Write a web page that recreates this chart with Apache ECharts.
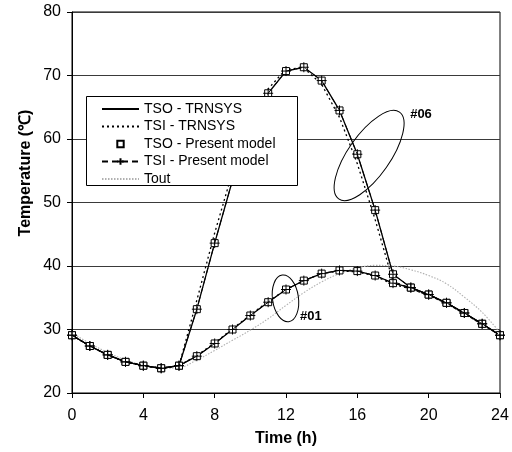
<!DOCTYPE html>
<html>
<head>
<meta charset="utf-8">
<script src="https://cdn.jsdelivr.net/npm/echarts@6/dist/echarts.min.js"></script>
<style>
  html, body { margin: 0; padding: 0; background: #fff; }
  #chart { width: 512px; height: 452px; }
</style>
</head>
<body>
<div id="chart"></div>
<script>
// Hour of day
const hours = [0, 1, 2, 3, 4, 5, 6, 7, 8, 9, 10, 11, 12, 13, 14, 15, 16, 17, 18, 19, 20, 21, 22, 23, 24];

// Case #06: outlet (TSO) and inlet (TSI) temperatures, °C
const tso06 = [29.1, 27.4, 26.0, 24.9, 24.3, 23.9, 24.3, 33.2, 43.6, 53.5, 61.0, 67.2, 70.7, 71.3, 69.2, 64.5, 57.6, 48.8, 38.7, 36.6, 35.5, 34.2, 32.6, 30.9, 29.1];
const tsiTrnsys06 = [29.1, 27.4, 26.0, 24.9, 24.3, 23.9, 24.3, 34.6, 45.2, 54.8, 62.2, 67.9, 71.0, 71.2, 68.6, 63.4, 56.1, 47.3, 37.6, 36.4, 35.4, 34.1, 32.5, 30.8, 29.1];

// Case #01: outlet (TSO) and inlet (TSI) temperatures, °C
const tso01 = [29.1, 27.4, 26.0, 24.9, 24.3, 23.9, 24.3, 25.8, 27.8, 30.0, 32.2, 34.3, 36.3, 37.7, 38.8, 39.3, 39.2, 38.5, 37.3, 36.6, 35.5, 34.2, 32.6, 30.9, 29.1];
const tsiTrnsys01 = [29.1, 27.4, 26.0, 24.9, 24.3, 23.9, 24.3, 25.9, 27.9, 30.1, 32.3, 34.4, 36.3, 37.7, 38.8, 39.2, 39.1, 38.4, 37.1, 36.4, 35.4, 34.1, 32.5, 30.8, 29.1];

// Present model results (same hourly grid)
const tsoModel06 = tso06;
const tsiModel06 = tso06;
const tsoModel01 = tso01;
const tsiModel01 = tso01;

// Outdoor air temperature, °C
const tout = [29.5, 27.8, 26.4, 25.2, 24.4, 23.9, 24.0, 25.2, 26.7, 28.3, 29.9, 31.7, 33.8, 35.8, 37.5, 38.8, 39.7, 40.1, 40.0, 39.4, 38.5, 37.2, 35.1, 32.7, 29.5];

// Axis ticks
const xTicks = [0, 4, 8, 12, 16, 20, 24];
const yTicks = [20, 30, 40, 50, 60, 70, 80];

// Legend entries
const names = ['TSO - TRNSYS', 'TSI - TRNSYS', 'TSO - Present model', 'TSI - Present model', 'Tout'];

const pts = vals => hours.map((h, i) => [h, vals[i]]);
const FONT = 'Arial, "Liberation Sans", sans-serif';
const PLUS = 'path://M0,5L10,5M5,0L5,10';

function trnsysSolid(data) {
  return {
    name: names[0], type: 'line', data: pts(data), symbol: 'none',
    lineStyle: { color: '#000', width: 1.3, type: 'solid' }, z: 3
  };
}
function trnsysDotted(data) {
  return {
    name: names[1], type: 'line', data: pts(data), symbol: 'none',
    lineStyle: { color: '#000', width: 1.3, type: [2, 3] }, z: 3
  };
}
function modelSquares(data) {
  return {
    name: names[2], type: 'line', data: pts(data), symbol: 'rect', symbolSize: 7,
    itemStyle: { color: '#fff', borderColor: '#000', borderWidth: 1 },
    lineStyle: { width: 0, opacity: 0 }, z: 4
  };
}
function modelPlus(data) {
  return {
    name: names[3], type: 'line', data: pts(data), symbol: PLUS, symbolSize: 10,
    itemStyle: { color: '#000', borderColor: '#000', borderWidth: 1 },
    lineStyle: { color: '#000', width: 1, type: [6, 4] }, z: 5
  };
}

const chart = echarts.init(document.getElementById('chart'), null, { renderer: 'canvas' });

// line-only entries show just their stroke in the legend
const hideSymbol = { opacity: 0 };

chart.setOption({
  animation: false,
  backgroundColor: '#fff',
  textStyle: { fontFamily: FONT },
  grid: {
    left: 72, right: 12, top: 12, bottom: 59,
    show: true, borderColor: '#000', borderWidth: 1, backgroundColor: 'transparent'
  },
  xAxis: {
    type: 'value', min: xTicks[0], max: xTicks[xTicks.length - 1], interval: 4,
    name: 'Time (h)', nameLocation: 'middle', nameGap: 38,
    nameTextStyle: { fontSize: 16, fontWeight: 'bold', color: '#000', fontFamily: FONT },
    axisLine: { onZero: false, lineStyle: { color: '#000', width: 1 } },
    axisTick: { show: true, inside: false, length: 5, lineStyle: { color: '#000' } },
    axisLabel: { fontSize: 16, color: '#000', margin: 15, fontFamily: FONT },
    splitLine: { show: false }
  },
  yAxis: {
    type: 'value', min: yTicks[0], max: yTicks[yTicks.length - 1], interval: 10,
    axisLine: { show: true, onZero: false, lineStyle: { color: '#000', width: 1 } },
    axisTick: { show: true, inside: false, length: 5, lineStyle: { color: '#000' } },
    axisLabel: { fontSize: 16, color: '#000', margin: 11, fontFamily: FONT },
    splitLine: { show: true, lineStyle: { color: '#3a3a3a', width: 1 } }
  },
  legend: {
    data: [
      { name: names[0], itemStyle: hideSymbol },
      { name: names[1], itemStyle: hideSymbol },
      { name: names[2] },
      { name: names[3] },
      { name: names[4], itemStyle: hideSymbol }
    ],
    orient: 'vertical', left: 101, top: 102, padding: 0,
    itemWidth: 37, itemHeight: 8, itemGap: 3.5,
    textStyle: { fontSize: 14, color: '#000', lineHeight: 14, fontFamily: FONT },
    selectedMode: false, z: 10
  },
  series: [
    {
      name: names[4], type: 'line', data: pts(tout), symbol: 'none', smooth: 0.4,
      lineStyle: { color: '#b0b0b0', width: 1.1, type: [1.5, 1.5] }, z: 2
    },
    trnsysSolid(tso06), trnsysSolid(tso01),
    trnsysDotted(tsiTrnsys06), trnsysDotted(tsiTrnsys01),
    modelSquares(tsoModel06), modelSquares(tsoModel01),
    modelPlus(tsiModel06), modelPlus(tsiModel01)
  ]
});

// Annotations: legend frame, y-axis title, case ellipses and their tags
const px = (x, y) => chart.convertToPixel({ gridIndex: 0 }, [x, y]);
const e06 = px(16.66, 57.4);
const e01 = px(11.97, 34.9);
const t06 = px(19.57, 63.9);
const t01 = px(13.4, 32.0);
const deg = Math.PI / 180;

chart.setOption({
  graphic: [
    {
      type: 'rect', z: 8, silent: true,
      shape: { x: 86.5, y: 96.5, width: 211, height: 89 },
      style: { fill: '#fff', stroke: '#000', lineWidth: 1 }
    },
    {
      type: 'text', x: 26, y: 173, rotation: Math.PI / 2, silent: true,
      style: {
        text: 'Temperature (℃)', font: 'bold 16px ' + FONT, fill: '#000',
        align: 'center', verticalAlign: 'middle'
      }
    },
    {
      type: 'ellipse', x: e06[0], y: e06[1], rotation: 55 * deg, z: 6, silent: true,
      shape: { cx: 0, cy: 0, rx: 53, ry: 21 },
      style: { fill: 'none', stroke: '#000', lineWidth: 1 }
    },
    {
      type: 'ellipse', x: e01[0], y: e01[1], rotation: 8 * deg, z: 6, silent: true,
      shape: { cx: 0, cy: 0, rx: 13, ry: 23.5 },
      style: { fill: 'none', stroke: '#000', lineWidth: 1 }
    },
    {
      type: 'text', x: t06[0], y: t06[1], z: 6, silent: true,
      style: { text: '#06', font: 'bold 13px ' + FONT, fill: '#000', align: 'center', verticalAlign: 'middle' }
    },
    {
      type: 'text', x: t01[0], y: t01[1], z: 6, silent: true,
      style: { text: '#01', font: 'bold 13px ' + FONT, fill: '#000', align: 'center', verticalAlign: 'middle' }
    }
  ]
});
</script>
</body>
</html>
